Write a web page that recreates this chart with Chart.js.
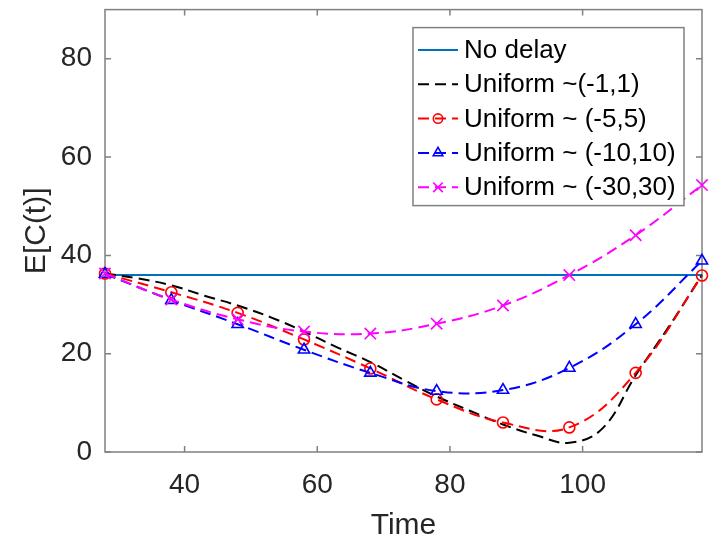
<!DOCTYPE html>
<html>
<head>
<meta charset="utf-8">
<style>
  html, body { margin: 0; padding: 0; background: #ffffff; }
  #wrap { width: 716px; height: 538px; }
</style>
<script src="https://cdn.jsdelivr.net/npm/chart.js@4.4.1/dist/chart.umd.min.js"></script>
</head>
<body>
<div id="wrap"><canvas id="c" width="716" height="538"></canvas></div>
<script>
// Expected cost E[C(t)] over time for several delay distributions
const markTime   = [28, 38, 48, 58, 68, 78, 88, 98, 108, 118];
const fineTime   = [28, 33, 38, 43, 48, 53, 58, 63, 68, 73, 78, 83, 88, 93, 98, 103, 108, 113, 118];
const flatTime   = [28, 118];

const noDelay    = [36.0, 36.0];
const uniform1   = [36.3, 35.3, 33.9, 31.8, 29.8, 27.4, 24.5, 21.3, 18.3, 14.7, 11.3, 8.4, 5.6, 3.4, 1.9, 4.8, 15.6, 25.5, 36.0];
const uniform5   = [36.3, 32.5, 28.3, 22.9, 17.0, 10.7, 6.0, 5.0, 16.1, 35.9];
const uniform10  = [36.2, 30.9, 26.0, 20.8, 16.1, 12.4, 12.6, 17.1, 26.0, 38.9];
const uniform30  = [36.3, 31.0, 27.0, 24.5, 24.1, 26.1, 29.8, 36.0, 44.1, 54.3];

const seriesNames = ['No delay', 'Uniform ~(-1,1)', 'Uniform ~ (-5,5)', 'Uniform ~ (-10,10)', 'Uniform ~ (-30,30)'];
const xTicks = [40, 60, 80, 100];
const yTicks = [0, 20, 40, 60, 80];
const xLimits = [28, 118];
const yLimits = [0, 90];

const FONT = "'Liberation Sans', Arial, Helvetica, sans-serif";
const TEXT = '#262626';
const AXIS = '#808080';

const pairs = (xs, ys) => xs.map((x, i) => ({ x: x, y: ys[i] }));

const DASH = [11, 6];

const datasets = [
  { label: seriesNames[0], data: pairs(flatTime, noDelay), borderColor: '#0072bd', borderWidth: 2,
    pointRadius: 0, pointStyle: false, order: 5 },
  { label: seriesNames[1], data: pairs(fineTime, uniform1), borderColor: '#000000', borderWidth: 2,
    borderDash: DASH, pointRadius: 0, pointStyle: false, order: 4 },
  { label: seriesNames[2], data: pairs(markTime, uniform5), borderColor: '#ff0000', borderWidth: 2,
    borderDash: DASH, pointStyle: 'circle', pointRadius: 5.5, pointBorderWidth: 1.6,
    pointBorderColor: '#ff0000', pointBackgroundColor: 'rgba(0,0,0,0)', order: 3 },
  { label: seriesNames[3], data: pairs(markTime, uniform10), borderColor: '#0000ff', borderWidth: 2,
    borderDash: DASH, pointStyle: 'triangle', pointRadius: 6.5, pointBorderWidth: 1.6,
    pointBorderColor: '#0000ff', pointBackgroundColor: 'rgba(0,0,0,0)', order: 2 },
  { label: seriesNames[4], data: pairs(markTime, uniform30), borderColor: '#ff00ff', borderWidth: 2,
    borderDash: DASH, pointStyle: 'crossRot', pointRadius: 8, pointBorderWidth: 1.6,
    pointBorderColor: '#ff00ff', pointBackgroundColor: 'rgba(0,0,0,0)', order: 1 }
];
datasets.forEach(d => { d.tension = 0.4; d.fill = false; d.clip = false; });

// Boxed axes with inward tick marks on all four sides
const axesBox = {
  id: 'axesBox',
  beforeDatasetsDraw(chart, args, opts) {
    const { ctx, chartArea: a, scales } = chart;
    ctx.save();
    ctx.strokeStyle = AXIS;
    ctx.lineWidth = 1.5;
    ctx.setLineDash([]);
    ctx.strokeRect(a.left, a.top, a.right - a.left, a.bottom - a.top);
    const len = opts.tickLen;
    ctx.beginPath();
    xTicks.forEach(v => {
      const px = scales.x.getPixelForValue(v);
      ctx.moveTo(px, a.bottom); ctx.lineTo(px, a.bottom - len);
      ctx.moveTo(px, a.top);    ctx.lineTo(px, a.top + len);
    });
    yTicks.forEach(v => {
      const py = scales.y.getPixelForValue(v);
      ctx.moveTo(a.left, py);  ctx.lineTo(a.left + len, py);
      ctx.moveTo(a.right, py); ctx.lineTo(a.right - len, py);
    });
    ctx.stroke();
    ctx.restore();
  }
};

// Boxed legend in the upper right of the plot area
const boxedLegend = {
  id: 'boxedLegend',
  afterDatasetsDraw(chart, args, opts) {
    const { ctx, chartArea: a } = chart;
    const right = a.right - opts.marginRight;
    const top = a.top + opts.marginTop;
    const left = right - opts.width;
    ctx.save();
    ctx.fillStyle = '#ffffff';
    ctx.fillRect(left, top, opts.width, opts.height);
    ctx.strokeStyle = AXIS;
    ctx.lineWidth = 1.5;
    ctx.setLineDash([]);
    ctx.strokeRect(left, top, opts.width, opts.height);
    ctx.font = opts.fontSize + 'px ' + FONT;
    ctx.textBaseline = 'middle';
    ctx.textAlign = 'left';
    chart.data.datasets.forEach((ds, i) => {
      const cy = top + opts.firstRow + i * opts.rowStep;
      const x0 = left + opts.lineStart;
      const x1 = left + opts.lineEnd;
      ctx.strokeStyle = ds.borderColor;
      ctx.lineWidth = ds.borderWidth;
      ctx.setLineDash(ds.borderDash || []);
      ctx.beginPath();
      ctx.moveTo(x0, cy); ctx.lineTo(x1, cy);
      ctx.stroke();
      ctx.setLineDash([]);
      if (ds.pointStyle) {
        ctx.strokeStyle = ds.pointBorderColor;
        ctx.fillStyle = 'rgba(0,0,0,0)';
        ctx.lineWidth = ds.pointBorderWidth;
        Chart.helpers.drawPoint(ctx, { pointStyle: ds.pointStyle, radius: ds.pointRadius * 0.85,
          borderWidth: ds.pointBorderWidth, rotation: 0 }, (x0 + x1) / 2, cy);
      }
      ctx.fillStyle = '#000000';
      ctx.fillText(ds.label, left + opts.textStart, cy + 1);
    });
    ctx.restore();
  }
};

new Chart(document.getElementById('c'), {
  type: 'line',
  data: { datasets: datasets },
  plugins: [axesBox, boxedLegend],
  options: {
    responsive: false,
    animation: false,
    devicePixelRatio: 1,
    layout: { padding: { top: 8, right: 14, left: 0, bottom: 0 } },
    plugins: {
      legend: { display: false },
      tooltip: { enabled: false },
      axesBox: { tickLen: 6 },
      boxedLegend: { marginRight: 18, marginTop: 18, width: 271, height: 178,
        firstRow: 22.3, rowStep: 34.35, lineStart: 5, lineEnd: 45, textStart: 51, fontSize: 26 }
    },
    scales: {
      x: {
        type: 'linear', min: xLimits[0], max: xLimits[1],
        afterBuildTicks: s => { s.ticks = xTicks.map(v => ({ value: v })); },
        afterFit: s => { s.height = 86; s.paddingLeft = 0; s.paddingRight = 0; },
        grid: { display: false, drawTicks: false },
        border: { display: false },
        ticks: { font: { family: FONT, size: 28 }, color: TEXT, padding: 16,
                 maxRotation: 0, autoSkip: false },
        title: { display: true, text: 'Time', color: TEXT, padding: 0,
                 font: { family: FONT, size: 30, lineHeight: 0.85 } }
      },
      y: {
        type: 'linear', min: yLimits[0], max: yLimits[1],
        afterBuildTicks: s => { s.ticks = yTicks.map(v => ({ value: v })); },
        afterFit: s => { s.width = 105; s.paddingTop = 0; s.paddingBottom = 0; },
        grid: { display: false, drawTicks: false },
        border: { display: false },
        ticks: { font: { family: FONT, size: 28 }, color: TEXT, padding: 13, autoSkip: false },
        title: { display: true, text: 'E[C(t)]', color: TEXT, padding: { top: 22, bottom: 0 },
                 font: { family: FONT, size: 30, lineHeight: 1 } }
      }
    }
  }
});
</script>
</body>
</html>
